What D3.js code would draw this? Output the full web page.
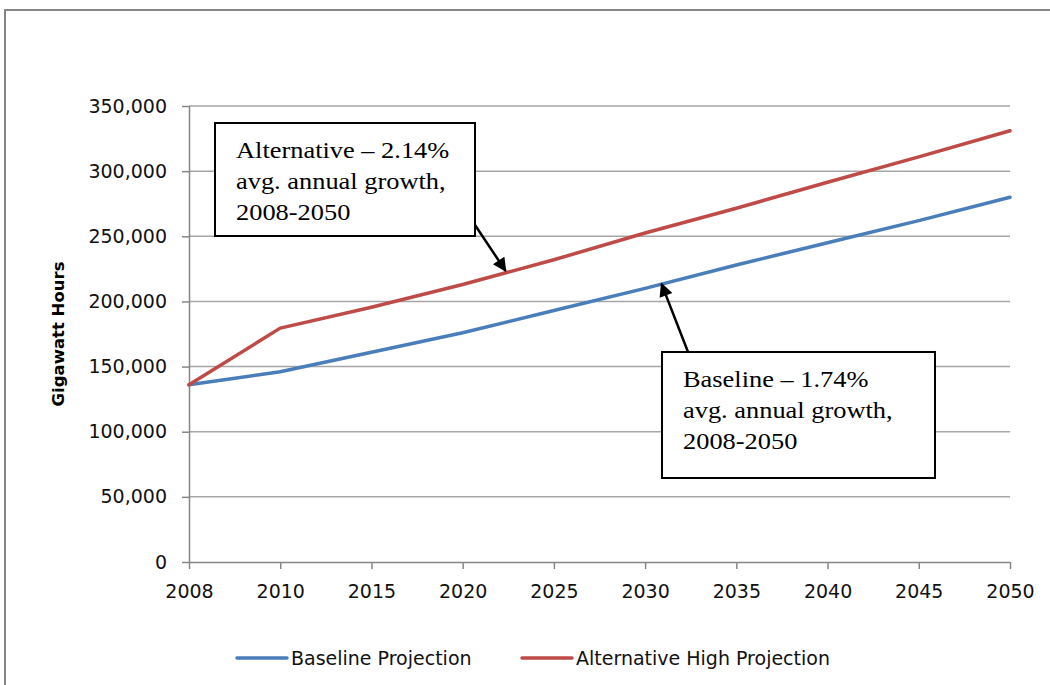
<!DOCTYPE html>
<html>
<head>
<meta charset="utf-8">
<script src="https://cdn.jsdelivr.net/npm/d3@7"></script>
<style>
  body { margin: 0; background: #fff; }
  svg { display: block; }
</style>
</head>
<body>
<div id="chart"></div>
<script>
const years = ['2008', '2010', '2015', '2020', '2025', '2030', '2035', '2040', '2045', '2050'];
const baseline = [136000, 146000, 161000, 176000, 193000, 210000, 228000, 245000, 262000, 280000];
const alternative = [136000, 179500, 195500, 213000, 232000, 252500, 271500, 291500, 311000, 331000];
const yTicks = [0, 50000, 100000, 150000, 200000, 250000, 300000, 350000];
const seriesNames = ['Baseline Projection', 'Alternative High Projection'];
const seriesColors = ['#4a7ebb', '#be4b48'];

const width = 1050, height = 685;
const margin = { top: 106, right: 40, bottom: 123, left: 189 };
const sans = '"DejaVu Sans", sans-serif';

const svg = d3.select('#chart').append('svg')
  .attr('width', width)
  .attr('height', height);

// outer chart frame
svg.append('rect')
  .attr('x', 5).attr('y', 10)
  .attr('width', width + 10).attr('height', height + 10)
  .attr('fill', 'none')
  .attr('stroke', '#868686')
  .attr('stroke-width', 2);

const x = d3.scalePoint()
  .domain(years)
  .range([margin.left, width - margin.right]);

const y = d3.scaleLinear()
  .domain([0, 350000])
  .range([height - margin.bottom, margin.top]);

// gridlines
svg.append('g')
  .selectAll('line')
  .data(yTicks.filter(d => d > 0))
  .enter()
  .append('line')
  .attr('x1', margin.left).attr('x2', width - margin.right)
  .attr('y1', d => y(d)).attr('y2', d => y(d))
  .attr('stroke', '#a6a6a6')
  .attr('stroke-width', 1.5);

// y axis
const yAxis = svg.append('g')
  .attr('transform', `translate(${margin.left},0)`)
  .call(d3.axisLeft(y).tickValues(yTicks).tickSize(7).tickPadding(15).tickFormat(d3.format(',')));

// x axis
const xAxis = svg.append('g')
  .attr('transform', `translate(0,${y(0)})`)
  .call(d3.axisBottom(x).tickSize(7).tickPadding(16).tickSizeOuter(0));

[yAxis, xAxis].forEach(ax => {
  ax.select('.domain').attr('stroke', '#868686').attr('stroke-width', 1.5);
  ax.selectAll('.tick line').attr('stroke', '#868686').attr('stroke-width', 1.5);
  ax.selectAll('text')
    .style('font-family', sans)
    .style('font-size', '19px')
    .attr('fill', '#111');
});
xAxis.select('.domain').attr('d', `M${margin.left},0.5H${width - margin.right}`);
yAxis.select('.domain').attr('d', `M0.5,${y(0)}V${margin.top}`);

// y title
svg.append('text')
  .attr('transform', `translate(64,${(y(0) + y(350000)) / 2}) rotate(-90)`)
  .attr('text-anchor', 'middle')
  .style('font-family', sans)
  .style('font-size', '16.5px')
  .style('font-weight', 'bold')
  .text('Gigawatt Hours');

// lines
const line = d3.line()
  .x((d, i) => x(years[i]))
  .y(d => y(d));

[baseline, alternative].forEach((s, k) => {
  svg.append('path')
    .datum(s)
    .attr('d', line)
    .attr('fill', 'none')
    .attr('stroke', seriesColors[k])
    .attr('stroke-width', 3.5)
    .attr('stroke-linejoin', 'round')
    .attr('stroke-linecap', 'round');
});

// position between two categories
const xBetween = (i, t) => x(years[i]) + (x(years[i + 1]) - x(years[i])) * t;

// callouts
const defs = svg.append('defs');
defs.append('marker')
  .attr('id', 'arrow')
  .attr('viewBox', '0 0 10 10')
  .attr('refX', 9).attr('refY', 5)
  .attr('markerWidth', 6).attr('markerHeight', 5.5)
  .attr('markerUnits', 'strokeWidth')
  .attr('orient', 'auto')
  .append('path')
  .attr('d', 'M0,0L10,5L0,10Z')
  .attr('fill', '#000');

const callouts = [
  { box: [215, 123, 260, 113], lines: ['Alternative \u2013 2.14%', 'avg. annual growth,', '2008-2050'],
    from: [475, 225], to: [xBetween(3, 0.47), y(223500)] },
  { box: [662, 352, 273, 126], lines: ['Baseline \u2013 1.74%', 'avg. annual growth,', '2008-2050'],
    from: [688, 352], to: [xBetween(5, 0.18), y(213500)] }
];

callouts.forEach(c => {
  svg.append('line')
    .attr('x1', c.from[0]).attr('y1', c.from[1])
    .attr('x2', c.to[0]).attr('y2', c.to[1])
    .attr('stroke', '#000')
    .attr('stroke-width', 2.5)
    .attr('marker-end', 'url(#arrow)');

  const [bx, by, bw, bh] = c.box;
  svg.append('rect')
    .attr('x', bx).attr('y', by)
    .attr('width', bw).attr('height', bh)
    .attr('fill', '#fff')
    .attr('stroke', '#000')
    .attr('stroke-width', 2);

  svg.append('g')
    .attr('transform', `translate(${bx + 21},${by}) scale(1.1,1)`)
    .append('text')
    .style('font-family', '"Liberation Serif", "Times New Roman", serif')
    .style('font-size', '24px')
    .attr('fill', '#000')
    .selectAll('tspan')
    .data(c.lines)
    .enter()
    .append('tspan')
    .attr('x', 0)
    .attr('y', (d, i) => 35 + i * 31)
    .text(d => d);
});

// legend
const legendItems = [
  { x: 237, name: seriesNames[0], color: seriesColors[0] },
  { x: 522, name: seriesNames[1], color: seriesColors[1] }
];
const legend = svg.append('g').attr('transform', 'translate(0,658)');
legendItems.forEach(d => {
  legend.append('line')
    .attr('x1', d.x).attr('x2', d.x + 50)
    .attr('stroke', d.color)
    .attr('stroke-width', 3.5)
    .attr('stroke-linecap', 'round');
  legend.append('text')
    .attr('x', d.x + 54)
    .attr('dy', '0.35em')
    .style('font-family', sans)
    .style('font-size', '19px')
    .attr('fill', '#111')
    .text(d.name);
});
</script>
</body>
</html>
